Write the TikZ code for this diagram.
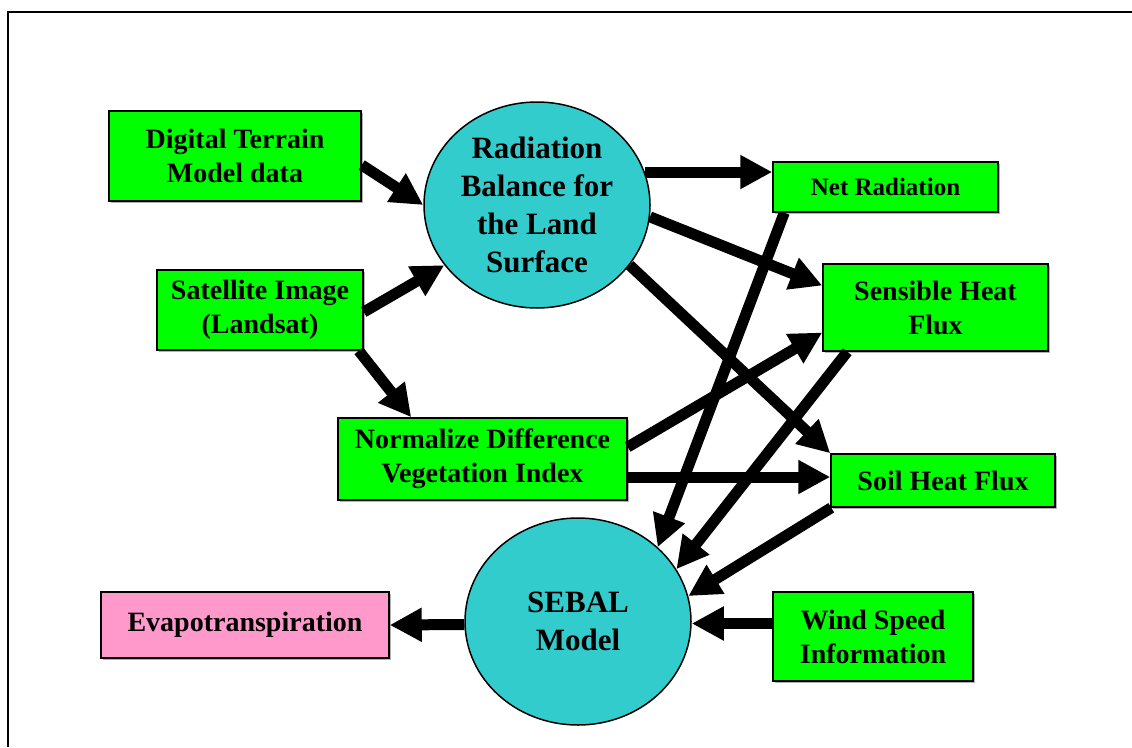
\documentclass[tikz,border=0pt]{standalone}
\usepackage{fontspec}
\setmainfont{Liberation Serif}
\usetikzlibrary{arrows.meta,shapes.geometric,shadows}
\definecolor{boxgreen}{RGB}{0,255,0}
\definecolor{balltea}{RGB}{51,204,204}
\definecolor{boxpink}{RGB}{255,153,204}
\newcommand\boxfont{\fontsize{28}{34}\selectfont\bfseries}
\newcommand\ballfont{\fontsize{31}{38}\selectfont\bfseries}

\begin{document}
\begin{tikzpicture}[x=1pt,y=-1pt]

\tikzset{inbox/.style={draw=black,line width=1.5pt,fill=boxgreen,align=center,inner sep=2pt,
  font=\boxfont,drop shadow={shadow xshift=1.5pt,shadow yshift=-1.5pt,fill=gray!60,opacity=1}}}
\tikzset{outbox/.style={inbox,fill=boxpink}}
\tikzset{ball/.style={ellipse,draw=black,line width=1.5pt,fill=balltea,align=center,inner sep=0pt,
  font=\ballfont,minimum width=226pt,minimum height=206pt}}
\tikzset{flow/.style={-{Triangle[length=32pt,width=32pt]},line width=11pt,black}}

\useasboundingbox (0,0) rectangle (1132,747);
\draw[line width=2pt] (8,747) -- (8,12) -- (1132,12);

\node[inbox,minimum width=252pt,minimum height=90pt] (dtm)   at (235,156)   {Digital Terrain\\Model data};
\node[inbox,minimum width=206pt,minimum height=80pt] (sat)   at (260,310)   {Satellite Image\\(Landsat)};
\node[inbox,minimum width=289pt,minimum height=82pt] (ndvi)  at (482.5,459) {Normalize Difference\\Vegetation Index};
\node[inbox,minimum width=225pt,minimum height=50pt,font=\fontsize{25}{30}\selectfont\bfseries]
                                                     (net)   at (885.5,187) {Net Radiation};
\node[inbox,minimum width=225pt,minimum height=87pt] (sens)  at (935.5,307.5) {Sensible Heat\\Flux};
\node[inbox,minimum width=224pt,minimum height=53pt] (soil)  at (943,480.5) {Soil Heat Flux};
\node[inbox,minimum width=200pt,minimum height=89pt] (wind)  at (873,636.5) {Wind Speed\\Information};
\node[outbox,minimum width=288pt,minimum height=66pt] (evapo) at (245,625)  {Evapotranspiration};

\node[ball] (rad)   at (537,205)   {Radiation\\Balance for\\the Land\\Surface};
\node[ball,minimum height=207pt] (sebal) at (578,621.5) {SEBAL\\Model};

\draw[flow] ([yshift=-9pt]dtm.east) -- (rad.180);
\draw[flow] ([yshift=-2pt]sat.east) -- (rad.213.5);
\draw[flow] ([xshift=-5pt]sat.south east) -- ([xshift=74pt]ndvi.north west);
\draw[flow] (rad.17.5) -- (rad.17.5 -| net.west);
\draw[flow] (rad.-6.7) -- ([yshift=22pt]sens.west);
\draw[flow] (rad.-33.4) -- (soil.north west);
\draw[flow] ([xshift=12pt]net.south west) -- (sebal.43.3);
\draw[flow] ([yshift=12pt]ndvi.east) -- ([yshift=-25pt]sens.west);
\draw[flow] ([yshift=-18pt]ndvi.east) -- ([yshift=-18pt]ndvi.east -| soil.west);
\draw[flow] ([xshift=25pt]sens.south west) -- (sebal.28);
\draw[flow] ([xshift=1pt]soil.south west) -- (sebal.13.5);
\draw[flow] ([yshift=13pt]wind.west) -- ([yshift=13pt]wind.west -| sebal.east);
\draw[flow] ([yshift=-3pt]sebal.west) -- (evapo.east);

\end{tikzpicture}
\end{document}
